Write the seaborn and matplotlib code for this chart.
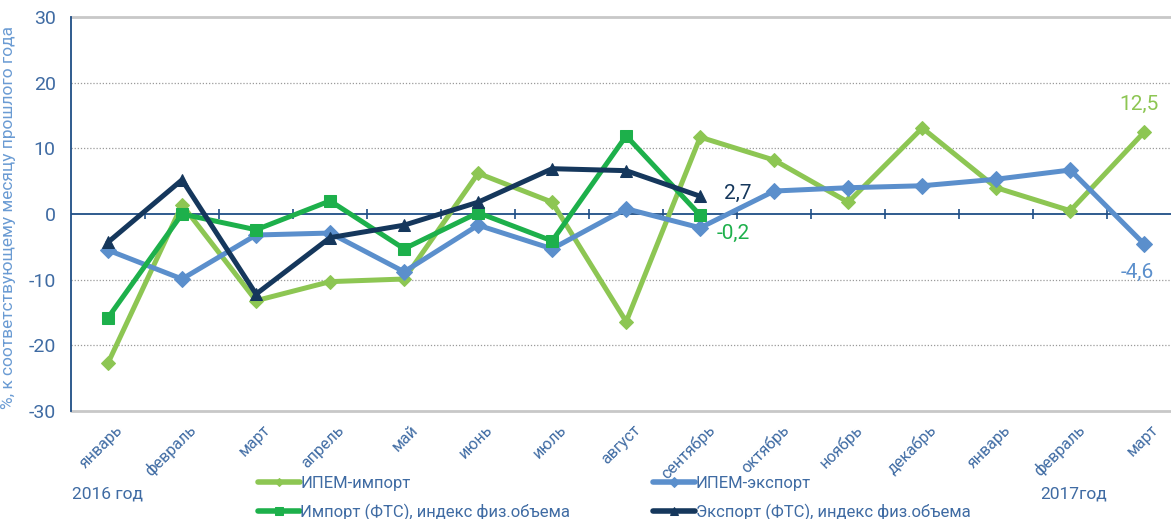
import numpy as np
import pandas as pd
import seaborn as sns
import matplotlib.pyplot as plt
import matplotlib.transforms as mtransforms
from matplotlib.legend_handler import HandlerLine2D
from matplotlib.lines import Line2D

months = ["январь", "февраль", "март", "апрель", "май", "июнь", "июль", "август",
          "сентябрь", "октябрь", "ноябрь", "декабрь", "январь", "февраль", "март"]

ipem_import = [-22.7, 1.4, -13.2, -10.3, -9.9, 6.2, 1.8, -16.4, 11.7, 8.2, 1.8, 13.1, 4.0, 0.5, 12.5]
ipem_export = [-5.5, -9.9, -3.2, -2.9, -8.8, -1.7, -5.3, 0.8, -2.1, 3.5, 4.0, 4.3, 5.3, 6.7, -4.6]
fts_import = [-15.8, 0.0, -2.4, 2.0, -5.3, 0.2, -4.1, 11.9, -0.2]
fts_export = [-4.3, 5.2, -12.2, -3.6, -1.7, 1.8, 6.9, 6.6, 2.7]

names = ["ИПЕМ-импорт", "ИПЕМ-экспорт",
         "Импорт (ФТС), индекс физ.объема", "Экспорт (ФТС), индекс физ.объема"]
series = [ipem_import, ipem_export, fts_import, fts_export]
colors = ["#8dc653", "#5b8fcc", "#1db04b", "#15375c"]
markers = ["D", "D", "s", "^"]
msizes = [7, 8, 9, 9]

sns.set_style("white")
plt.rcParams["font.family"] = ["Roboto", "DejaVu Sans"]
plt.rcParams["axes.unicode_minus"] = False

text_c = "#3f6ba3"
fig = plt.figure(figsize=(11.71, 5.19), dpi=100)
ax = fig.add_axes([71 / 1171, 1 - 411 / 519, 1100 / 1171, 394 / 519])

frames = []
for name, vals in zip(names, series):
    frames.append(pd.DataFrame({"x": np.arange(len(vals)), "y": vals, "s": name}))
df = pd.concat(frames, ignore_index=True)

for name, c, m, ms in zip(names, colors, markers, msizes):
    sub = df[df["s"] == name]
    sns.lineplot(data=sub, x="x", y="y", ax=ax, color=c, lw=3.6, marker=m,
                 markersize=ms, markeredgecolor=c, label=name, zorder=3)

ax.set_xlim(-0.5, 14.36)
ax.set_ylim(-30, 30)
for v in [-20, -10, 10, 20]:
    ax.axhline(v, color="#9a9a9a", lw=0.9, ls=(0, (1, 1.5)), zorder=1)
for v in [-30, 30]:
    ax.axhline(v, color="#c8c8c8", lw=2, zorder=1, clip_on=False)
ax.axhline(0, color="#1f4e86", lw=1.3, zorder=2)
ax.vlines(np.arange(len(months)) + 0.5, -0.7, 0.7, color="#1f4e86", lw=1.2, zorder=2)

for s in ["top", "right", "bottom"]:
    ax.spines[s].set_visible(False)
ax.spines["left"].set_color("#1f4e86")
ax.spines["left"].set_linewidth(1.3)
ax.set_yticks(range(-30, 31, 10))
ax.tick_params(axis="y", direction="out", length=7, width=1.3, color="#1f4e86",
               labelsize=14, labelcolor=text_c, pad=4)

ax.set_xticks(np.arange(len(months)))
ax.set_xticklabels(months, rotation=45, ha="right", va="center", rotation_mode="anchor",
                   fontsize=11.5, color=text_c)
ax.tick_params(axis="x", length=0, pad=12)
offset = mtransforms.ScaledTranslation(12 / 100, 0, fig.dpi_scale_trans)
for lbl in ax.get_xticklabels():
    lbl.set_transform(lbl.get_transform() + offset)

ax.set_xlabel("")
ax.set_ylabel("%, к соответствующему месяцу прошлого года", fontsize=12.5, color="#6a9bd3")
ax.yaxis.set_label_coords(-0.05, 0.49)

# end-point labels
ax.annotate("2,7", (8, fts_export[-1]), xytext=(17, 2), textcoords="offset points",
            color="#15375c", fontsize=15, va="center")
ax.annotate("-0,2", (8, fts_import[-1]), xytext=(12, -13), textcoords="offset points",
            color="#1db04b", fontsize=15, va="center")
ax.annotate("12,5", (14, ipem_import[-1]), xytext=(-18, 20), textcoords="offset points",
            color="#8dc653", fontsize=15, va="center")
ax.annotate("-4,6", (14, ipem_export[-1]), xytext=(-17, -20), textcoords="offset points",
            color="#5b8fcc", fontsize=15, va="center")


def small_marker(legline, orig):
    legline.update_from(orig)
    legline.set_markersize(orig.get_markersize() * 0.65)
    legline.set_linewidth(4)


h, l = ax.get_legend_handles_labels()
ax.get_legend().remove()
leg_kw = dict(frameon=False, loc="upper left", bbox_transform=fig.transFigure,
              fontsize=12, handlelength=2.5, handletextpad=0.05, labelspacing=0.75,
              labelcolor=text_c, borderaxespad=0, borderpad=0,
              handler_map={Line2D: HandlerLine2D(update_func=small_marker)})
fig.legend([h[0], h[2]], [l[0], l[2]], bbox_to_anchor=(258 / 1171, 1 - 476 / 519), **leg_kw)
fig.legend([h[1], h[3]], [l[1], l[3]], bbox_to_anchor=(653 / 1171, 1 - 476 / 519), **leg_kw)

fig.text(72 / 1171, 1 - 494 / 519, "2016 год", fontsize=12.5, color=text_c, va="center")
fig.text(1040 / 1171, 1 - 494 / 519, "2017год", fontsize=12.5, color=text_c, va="center")

fig.savefig("out.png", dpi=100)
